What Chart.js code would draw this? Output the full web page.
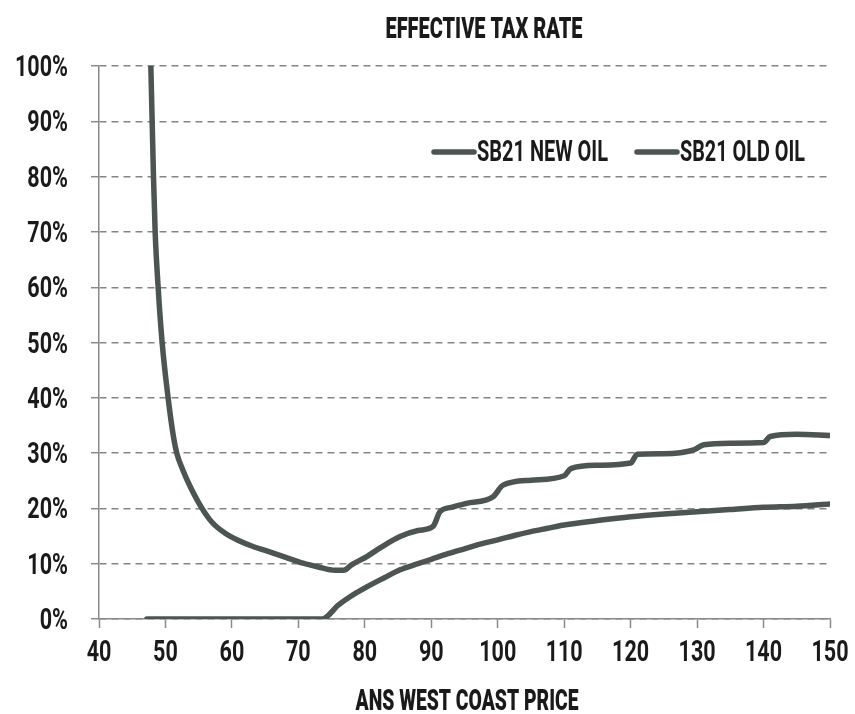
<!DOCTYPE html>
<html>
<head>
<meta charset="utf-8">
<script src="https://cdn.jsdelivr.net/npm/chart.js@4/dist/chart.umd.min.js"></script>
<style>
  html, body { margin: 0; padding: 0; background: #ffffff; }
  #wrap { width: 855px; height: 714px; }
</style>
</head>
<body>
<div id="wrap"><canvas id="chart" width="855" height="714"></canvas></div>
<script>
// Effective tax rate by ANS West Coast price
const chartTitle = 'EFFECTIVE TAX RATE';
const xAxisTitle = 'ANS WEST COAST PRICE';
const seriesNames = ['SB21 NEW OIL', 'SB21 OLD OIL'];

const newOilPrice = [47.8, 48.0, 48.2, 48.45, 48.9, 49.5, 50.4, 51.2, 51.7, 52.6, 53.7, 55.5, 57, 59, 61, 63, 66, 68, 70.7, 73, 75.5, 76.8, 78, 80.3, 82.5, 85.3, 88, 90.3, 91.3, 93, 95.3, 99.3, 100.8, 105, 110, 111, 115, 120, 121, 125, 129.5, 131, 135, 140, 141, 145, 150];
const newOilRate  = [100, 90, 80, 70, 60, 50, 40, 33, 30, 27, 24, 20, 17.5, 15.5, 14.2, 13.2, 12.0, 11.2, 10.1, 9.4, 8.8, 8.8, 9.8, 11.3, 13.0, 14.9, 16.0, 16.8, 19.4, 20.2, 20.9, 22.1, 24.2, 25.1, 25.9, 27.2, 27.8, 28.2, 29.8, 29.9, 30.6, 31.5, 31.8, 31.9, 33.0, 33.4, 33.2];

const oldOilPrice = [47.2, 73.6, 76, 78, 80.3, 83, 85.3, 88, 90, 92.5, 95, 97.5, 100, 102.5, 105, 107.5, 110, 115, 120, 125, 130, 135, 140, 145, 150];
const oldOilRate  = [0, 0, 2.5, 4.2, 5.8, 7.5, 8.9, 10.0, 10.8, 11.8, 12.7, 13.6, 14.3, 15.1, 15.8, 16.4, 17.0, 17.8, 18.5, 19.0, 19.4, 19.8, 20.2, 20.4, 20.8];

const xTickValues = [40, 50, 60, 70, 80, 90, 100, 110, 120, 130, 140, 150];
const yTickValues = [0, 10, 20, 30, 40, 50, 60, 70, 80, 90, 100];
const yTickLabel = v => v + '%';

const FONT = "Roboto, 'DejaVu Sans', sans-serif";
const LINE_COLOR = '#4c5553';
const TEXT_COLOR = '#1a1a1a';
const AXIS_COLOR = '#8a8a8a';

const toPoints = (xs, ys) => xs.map((x, i) => ({ x: x, y: ys[i] }));

// Draw text squeezed horizontally (condensed look) by a factor sx
function squeezedText(ctx, text, x, y, sx, align) {
  ctx.save();
  ctx.translate(x, y);
  ctx.scale(sx, 1);
  ctx.textAlign = align;
  ctx.textBaseline = 'alphabetic';
  ctx.fillText(text, 0, 0);
  ctx.restore();
}
// factor that makes `text` span `width` pixels in the current font
function fitFactor(ctx, text, width) {
  return width / ctx.measureText(text).width;
}

// Title, axis labels and legend
const decorations = {
  id: 'decorations',
  afterDraw(chart) {
    const ctx = chart.ctx;
    const xs = chart.scales.x, ys = chart.scales.y;
    ctx.save();
    ctx.fillStyle = TEXT_COLOR;

    // title and x axis title: heavy, tightly condensed
    ctx.font = '900 30px ' + FONT;
    squeezedText(ctx, chartTitle, 484, 38, fitFactor(ctx, chartTitle, 197), 'center');
    squeezedText(ctx, xAxisTitle, 467, 710, fitFactor(ctx, xAxisTitle, 223), 'center');

    // tick labels
    ctx.font = 'bold 29px ' + FONT;
    const tickSx = fitFactor(ctx, '100%', 53);
    yTickValues.forEach(v => {
      squeezedText(ctx, yTickLabel(v), 68, ys.getPixelForValue(v) + 10, tickSx, 'right');
    });
    xTickValues.forEach(v => {
      squeezedText(ctx, String(v), xs.getPixelForValue(v), 661, tickSx, 'center');
    });

    // legend
    const items = [
      { x: 432, tw: 131, ds: chart.data.datasets[0] },
      { x: 635, tw: 125, ds: chart.data.datasets[1] }
    ];
    const ly = 152;
    items.forEach(it => {
      ctx.strokeStyle = it.ds.borderColor;
      ctx.lineWidth = 5.5;
      ctx.lineCap = 'round';
      ctx.beginPath();
      ctx.moveTo(it.x + 2, ly);
      ctx.lineTo(it.x + 42, ly);
      ctx.stroke();
      ctx.font = 'bold 29px ' + FONT;
      ctx.fillStyle = TEXT_COLOR;
      squeezedText(ctx, it.ds.label, it.x + 45, 161, fitFactor(ctx, it.ds.label, it.tw), 'left');
    });
    ctx.restore();
  }
};

new Chart(document.getElementById('chart'), {
  type: 'line',
  data: {
    datasets: [
      {
        label: seriesNames[0],
        data: toPoints(newOilPrice, newOilRate),
        borderColor: LINE_COLOR,
        borderWidth: 5.5,
        pointRadius: 0,
        cubicInterpolationMode: 'monotone',
        borderCapStyle: 'round',
        borderJoinStyle: 'round',
        fill: false
      },
      {
        label: seriesNames[1],
        data: toPoints(oldOilPrice, oldOilRate),
        borderColor: LINE_COLOR,
        borderWidth: 5.5,
        pointRadius: 0,
        cubicInterpolationMode: 'monotone',
        borderCapStyle: 'round',
        borderJoinStyle: 'round',
        fill: false
      }
    ]
  },
  options: {
    responsive: false,
    animation: false,
    devicePixelRatio: 1,
    layout: { padding: { top: 66, right: 25, left: 0, bottom: 0 } },
    plugins: {
      legend: { display: false },
      title: { display: false },
      tooltip: { enabled: false }
    },
    scales: {
      x: {
        type: 'linear',
        min: 40,
        max: 150,
        afterBuildTicks: s => { s.ticks = xTickValues.map(v => ({ value: v })); },
        afterFit: s => { s.height = 95; },
        grid: {
          drawOnChartArea: false,
          drawTicks: true,
          tickLength: 9,
          tickColor: AXIS_COLOR,
          tickWidth: 1.5
        },
        border: { display: true, color: AXIS_COLOR, width: 1.5 },
        ticks: { display: false, autoSkip: false }
      },
      y: {
        min: 0,
        max: 100,
        afterBuildTicks: s => { s.ticks = yTickValues.map(v => ({ value: v })); },
        afterFit: s => { s.width = 99; },
        grid: {
          color: '#858585',
          lineWidth: 1.4,
          drawTicks: true,
          tickLength: 8,
          tickColor: AXIS_COLOR,
          tickWidth: 1.5
        },
        border: { display: true, color: AXIS_COLOR, width: 1.5, dash: [7, 5] },
        ticks: { display: false }
      }
    }
  },
  plugins: [decorations]
});
</script>
</body>
</html>
